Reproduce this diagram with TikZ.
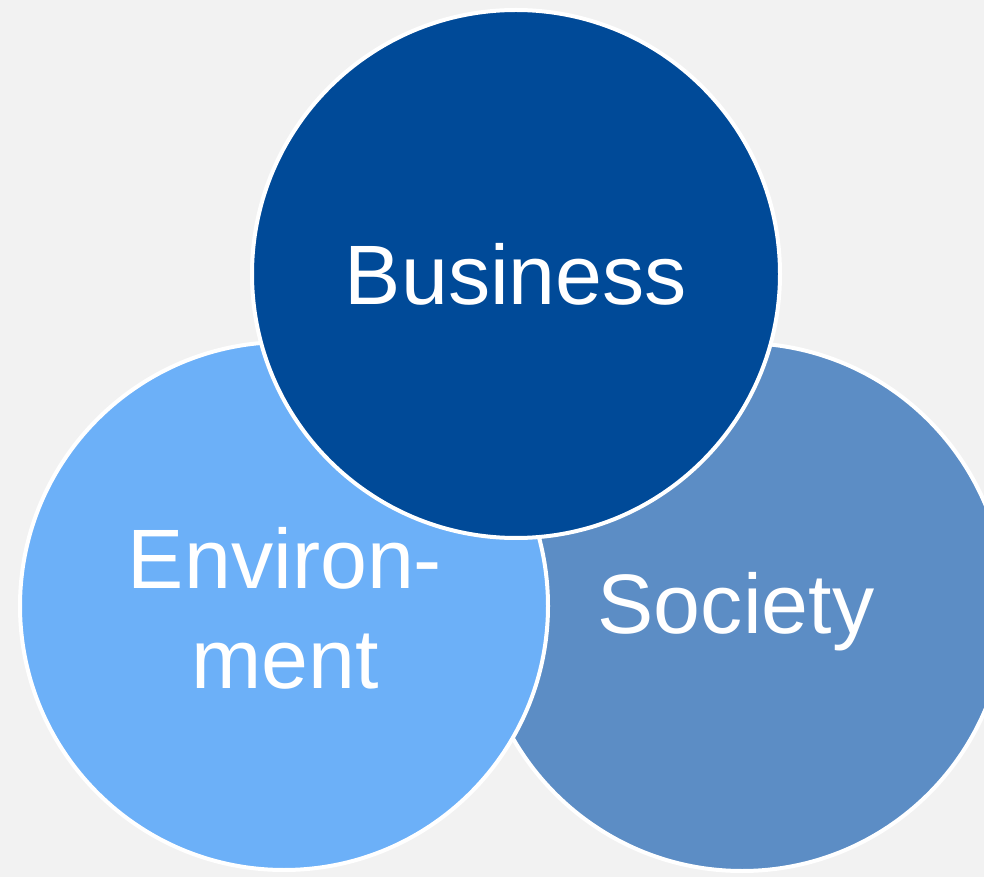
\documentclass[tikz,border=0pt]{standalone}
\usepackage{fontspec}
\setmainfont{Liberation Sans}
\usepackage{xcolor}
\usetikzlibrary{positioning}
\definecolor{bizblue}{HTML}{004A98}
\definecolor{envblue}{HTML}{6CB0F8}
\definecolor{socblue}{HTML}{5C8DC5}
\definecolor{bggray}{HTML}{F2F2F2}

\begin{document}
\begin{tikzpicture}[
        area/.style={circle, draw=white, line width=0.4mm, minimum size=5.28cm, inner sep=0pt},
        lbl/.style={text=white, align=center, font=\fontsize{24}{28.5}\selectfont}
    ]
        % Background
        \fill[bggray] (0, 0) rectangle (9.84, 8.77);
        \useasboundingbox (0, 0) rectangle (9.84, 8.77);

        % Society (drawn first, lies underneath)
        \node[area, fill=socblue] (society) at (7.42, 2.70) {};
        \node[lbl] (soclabel) at (7.36, 2.65) {Society};

        % Environment
        \node[area, fill=envblue] (environment) at (2.84, 2.71) {};
        \node[lbl] (envlabel) at (2.85, 2.69) {Environ-\\ment};

        % Business (on top)
        \node[area, fill=bizblue] (business) at (5.16, 6.03) {};
        \node[lbl] (bizlabel) at (5.16, 6.03) {Business};
    \end{tikzpicture}
\end{document}
